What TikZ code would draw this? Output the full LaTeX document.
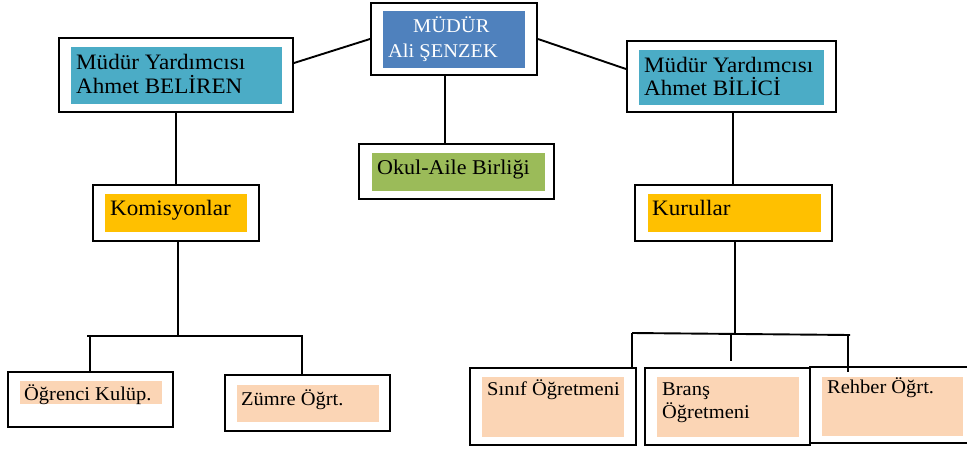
\documentclass[tikz,border=0pt]{standalone}
\usepackage{fontspec}
\setmainfont[FakeStretch=1.05]{Liberation Serif}
\usetikzlibrary{calc}
\definecolor{mblue}{HTML}{4F81BD}
\definecolor{maqua}{HTML}{4BACC6}
\definecolor{mgreen}{HTML}{9BBB59}
\definecolor{mgold}{HTML}{FFC000}
\definecolor{mpeach}{HTML}{FBD5B5}
\tikzset{
  outerbox/.style={draw=black, line width=2pt, fill=white, inner sep=0pt, rectangle},
  conn/.style={draw=black, line width=1.9pt},
  big/.style={anchor=base west, inner sep=0pt, font=\fontsize{22}{24}\selectfont},
  mid/.style={anchor=base west, inner sep=0pt, font=\fontsize{21}{24}\selectfont},
  small/.style={anchor=base west, inner sep=0pt, font=\fontsize{19.5}{22}\selectfont},
}
\begin{document}
\begin{tikzpicture}[x=1pt,y=-1pt]
\clip (0,0) rectangle (967,450);
\fill[white] (0,0) rectangle (967,450);

% boxes (outer frames)
\node[outerbox, minimum width=166pt, minimum height=72pt] (md)  at (454,39) {};
\node[outerbox, minimum width=234pt, minimum height=74pt] (myl) at (176,75) {};
\node[outerbox, minimum width=209pt, minimum height=71pt] (myr) at (731.5,76.5) {};
\node[outerbox, minimum width=195pt, minimum height=55pt] (oab) at (456.5,171.5) {};
\node[outerbox, minimum width=166pt, minimum height=56pt] (kom) at (176,213) {};
\node[outerbox, minimum width=197pt, minimum height=56pt] (kur) at (733.5,213) {};
\node[outerbox, minimum width=165pt, minimum height=55pt] (ogr) at (90.5,399.5) {};
\node[outerbox, minimum width=165pt, minimum height=56pt] (zum) at (307.5,403) {};
\node[outerbox, minimum width=166pt, minimum height=77pt] (sin) at (553,406.5) {};
\node[outerbox, minimum width=165pt, minimum height=77pt] (bra) at (727.5,406.5) {};
\node[outerbox, minimum width=180pt, minimum height=76pt] (reh) at (900,405) {};

% inner fills
\fill[mblue]  (383,11) rectangle (525,68);
\fill[maqua]  (71,47) rectangle (282,104);
\fill[maqua]  (639,50) rectangle (824,105);
\fill[mgreen] (372,153) rectangle (545,191);
\fill[mgold]  (105,194) rectangle (247,232);
\fill[mgold]  (648,194) rectangle (821,232);
\fill[mpeach] (20,381) rectangle (162,404);
\fill[mpeach] (237,385) rectangle (379,422);
\fill[mpeach] (482,377) rectangle (624,437);
\fill[mpeach] (657,377) rectangle (799,437);
\fill[mpeach] (822,377) rectangle (963,436);

% texts
\node[small, text=white] (t1) at (413,32) {MÜDÜR};
\node[small, text=white] (t2) at (388,57) {Ali ŞENZEK};
\node[big] (t3) at (76,69) {Müdür Yardımcısı};
\node[big] (t4) at (76,93) {Ahmet BELİREN};
\node[big] (t5) at (644,72) {Müdür Yardımcısı};
\node[big] (t6) at (644,95) {Ahmet BİLİCİ};
\node[mid] (t7) at (377,174) {Okul-Aile Birliği};
\node[big] (t8) at (110,215) {Komisyonlar};
\node[big] (t9) at (652,215) {Kurullar};
\node[small] (t10) at (24,400) {Öğrenci Kulüp.};
\node[small] (t11) at (241,405) {Zümre Öğrt.};
\node[small] (t12) at (487,395) {Sınıf Öğretmeni};
\node[small] (t13) at (662,395) {Branş};
\node[small] (t14) at (662,418) {Öğretmeni};
\node[small] (t15) at (827,393) {Rehber Öğrt.};

% connector coordinates
\coordinate (hl1) at (87,336);
\coordinate (hl2) at (303,336);
\coordinate (hr1) at (632,333);
\coordinate (hr2) at (850,335);
\coordinate (hrm) at (731,361);
\coordinate (hre) at (848,372);

% connectors
\draw[conn] ([yshift=12pt]myl.east) -- (md.west);
\draw[conn] (md.east) -- ([yshift=7.5pt]myr.west);
\draw[conn] ([xshift=-9pt]md.south) -- ([xshift=-9pt]md.south |- oab.north);
\draw[conn] (myl.south) -- (kom.north);
\draw[conn] ([xshift=1.5pt]myr.south) -- ([xshift=1.5pt]myr.south |- kur.north);

\draw[conn] ([xshift=2pt]kom.south) -- ([xshift=2pt]kom.south |- hl1);
\draw[conn] (hl1) -- (hl2);
\draw[conn] ([xshift=-0.5pt]ogr.north |- hl1) -- ([xshift=-0.5pt]ogr.north);
\draw[conn] ([xshift=-5.5pt]zum.north |- hl1) -- ([xshift=-5.5pt]zum.north);

\draw[conn] ([xshift=1.5pt]kur.south) -- ([xshift=1.5pt]kur.south |- hr1);
\draw[conn] (hr1) -- (hr2);
\draw[conn] (hr1) -- (hr1 |- sin.north);
\draw[conn] (hrm |- hr1) -- (hrm);
\draw[conn] (hre |- hr2) -- (hre);
\end{tikzpicture}
\end{document}
